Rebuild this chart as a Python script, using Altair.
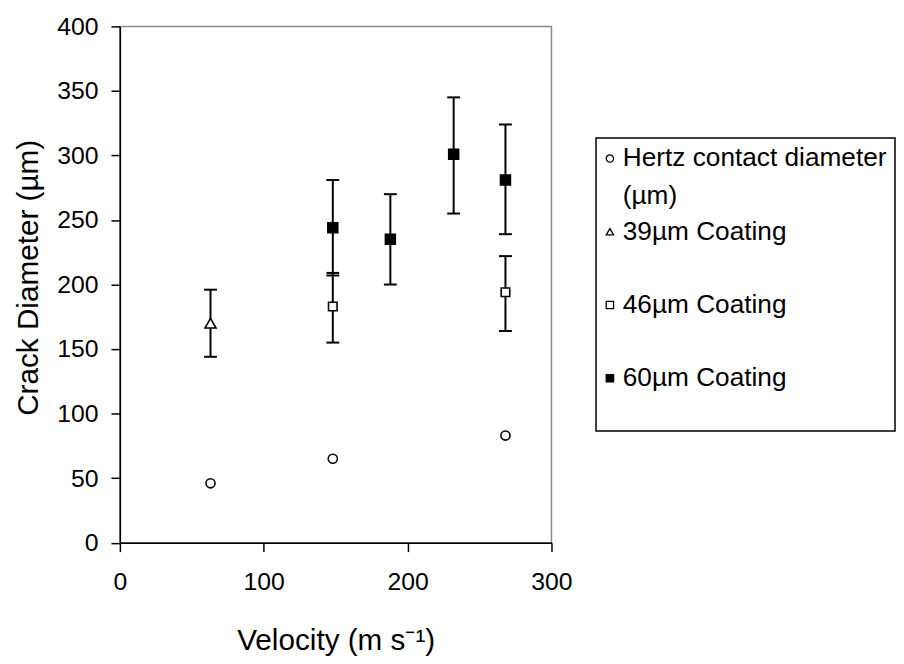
import altair as alt
import pandas as pd

FONT = "Liberation Sans"

# ---- data ----
series = ["Hertz contact diameter (µm)", "39µm Coating", "46µm Coating", "60µm Coating"]
legend_text = ["Hertz contact diameter\n(µm)", "39µm Coating", "46µm Coating", "60µm Coating"]

hertz_velocity = [63, 148, 268]
hertz_diameter = [46, 65, 83]

c39_velocity = [63]
c39_diameter = [170]
c39_low = [144]
c39_high = [196]

c46_velocity = [148, 268]
c46_diameter = [183, 194]
c46_low = [155, 164]
c46_high = [209, 222]

c60_velocity = [148, 188, 232, 268]
c60_diameter = [244, 235, 301, 281]
c60_low = [207, 200, 255, 239]
c60_high = [281, 270, 345, 324]

x_ticks = [0, 100, 200, 300]
y_ticks = [0, 50, 100, 150, 200, 250, 300, 350, 400]

# ---- styles ----
shapes = ["circle", "triangle-up", "square", "square"]
fills = ["white", "white", "white", "black"]
sizes = [85, 125, 75, 100]

hertz_df = pd.DataFrame({"velocity": hertz_velocity, "diameter": hertz_diameter})
c39_df = pd.DataFrame({"velocity": c39_velocity, "diameter": c39_diameter, "low": c39_low, "high": c39_high})
c46_df = pd.DataFrame({"velocity": c46_velocity, "diameter": c46_diameter, "low": c46_low, "high": c46_high})
c60_df = pd.DataFrame({"velocity": c60_velocity, "diameter": c60_diameter, "low": c60_low, "high": c60_high})
err_df = pd.concat([c39_df, c46_df, c60_df], ignore_index=True)

x_axis = alt.Axis(values=x_ticks, title="Velocity (m s⁻¹)", labelPadding=18, titlePadding=32,
                  labelFlush=False, labelOverlap=False)
y_axis = alt.Axis(values=y_ticks, title="Crack Diameter (µm)", labelPadding=13, titlePadding=13,
                  labelFlush=False, labelOverlap=False, titleY=253.5)
x_scale = alt.Scale(domain=[0, 300], nice=False)
y_scale = alt.Scale(domain=[0, 400], nice=False)


def X():
    return alt.X("velocity:Q", scale=x_scale, axis=x_axis)


def Y(field):
    return alt.Y(f"{field}:Q", scale=y_scale, axis=y_axis)


rules = alt.Chart(err_df).mark_rule(color="black", strokeWidth=2).encode(
    x=X(), y=Y("low"), y2="high:Q")
caps_low = alt.Chart(err_df).mark_tick(orient="horizontal", size=13, thickness=2, color="black", opacity=1).encode(
    x=X(), y=Y("low"))
caps_high = alt.Chart(err_df).mark_tick(orient="horizontal", size=13, thickness=2, color="black", opacity=1).encode(
    x=X(), y=Y("high"))

point_layers = []
for df, shp, fl, sz in zip([hertz_df, c39_df, c46_df, c60_df], shapes, fills, sizes):
    point_layers.append(
        alt.Chart(df).mark_point(shape=shp, filled=True, fill=fl, stroke="black", strokeWidth=1.6,
                                 size=sz, opacity=1).encode(x=X(), y=Y("diameter"))
    )

main = alt.layer(rules, caps_low, caps_high, *point_layers).properties(
    width=436, height=521.5,
    view=alt.ViewBackground(stroke="#8a8a8a", strokeWidth=1.5, fill="white"),
)

# ---- legend panel ----
leg_df = pd.DataFrame({"series": series, "label": legend_text})
leg_y = alt.Y("series:N", scale=alt.Scale(type="point", domain=series, padding=0.5, align=0.28), axis=None)

leg_points = alt.Chart(leg_df).mark_point(filled=True, stroke="black", strokeWidth=1.3, size=55, opacity=1).encode(
    x=alt.value(14),
    y=leg_y,
    shape=alt.Shape("series:N", scale=alt.Scale(domain=series, range=shapes), legend=None),
    fill=alt.Fill("series:N", scale=alt.Scale(domain=series, range=fills), legend=None),
)
leg_text = alt.Chart(leg_df).mark_text(align="left", baseline="top", dy=-13, fontSize=26.5, font=FONT,
                                       lineBreak="\n", lineHeight=38, color="black").encode(
    x=alt.value(27), y=leg_y, text="label:N")

legend = alt.layer(leg_points, leg_text).properties(
    width=302, height=296,
    view=alt.ViewBackground(stroke="black", strokeWidth=1.5, fill="white"),
)

chart = alt.hconcat(main, legend, spacing=45, bounds="flush", center=True).properties(
    padding={"left": 5, "top": 2, "right": 0, "bottom": 4},
    background="white",
).configure(font=FONT).configure_axis(
    labelFont=FONT, titleFont=FONT, labelFontSize=25, titleFontSize=30, titleFontWeight="normal",
    labelColor="black", titleColor="black", domainColor="black", tickColor="black",
    domainWidth=1.5, tickWidth=1.5, tickSize=9, grid=False,
)

chart.save("out.html", embed_options={"renderer": "svg", "actions": False})
